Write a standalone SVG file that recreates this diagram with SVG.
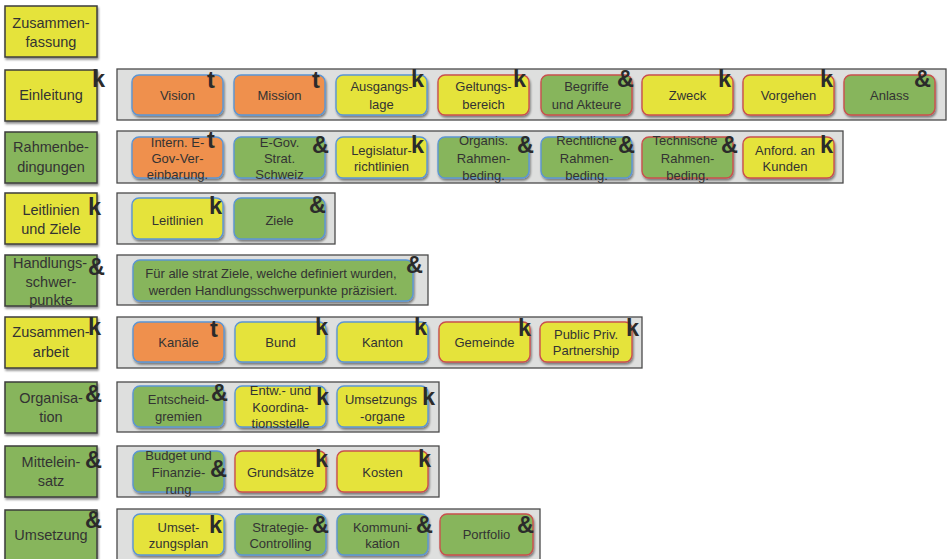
<svg xmlns="http://www.w3.org/2000/svg" width="951" height="559" viewBox="0 0 951 559">
<defs>
<filter id="sh" x="-10%" y="-10%" width="130%" height="140%"><feDropShadow dx="1" dy="2" stdDeviation="1.2" flood-color="#000" flood-opacity="0.45"/></filter>
<style>
.side{stroke:#3c3c3c;stroke-width:1.5;filter:url(#sh)}
.cont{fill:#dedfde;stroke:#4a4a4a;stroke-width:1.3}
.b{stroke-width:1.4;filter:url(#sh)}
.o{fill:#ef904d}.y{fill:#e5e33b}.g{fill:#87b55b}
.sb{stroke:#5b95d3}.sr{stroke:#c9504d}
text{font-family:"Liberation Sans",Arial,sans-serif;fill:#333;text-anchor:middle}
.l{font-size:14.5px}
.i{font-size:13px}
.m{font-size:23.5px;font-weight:bold;text-anchor:start;fill:#2b2b2b}
</style>
</defs>

<!-- Left labels -->
<g id="zusammenfassung"><rect class="side y" x="5" y="6" width="92" height="51"/><text class="l" x="51" y="28">Zusammen-</text><text class="l" x="51" y="47">fassung</text></g>
<g id="einleitung"><rect class="side y" x="5" y="70" width="92" height="51"/><text class="l" x="51" y="100">Einleitung</text><text class="m" x="92" y="87">k</text></g>
<g id="rahmenbedingungen"><rect class="side g" x="5" y="132" width="92" height="51"/><text class="l" x="51" y="152">Rahmenbe-</text><text class="l" x="51" y="172">dingungen</text></g>
<g id="leitlinien-ziele"><rect class="side y" x="5" y="193" width="92" height="51"/><text class="l" x="51" y="215">Leitlinien</text><text class="l" x="51" y="233.5">und Ziele</text><text class="m" x="88" y="215">k</text></g>
<g id="handlungsschwerpunkte"><rect class="side g" x="5" y="255" width="92" height="51"/><text class="l" x="50" y="268">Handlungs-</text><text class="l" x="51" y="286.5">schwer-</text><text class="l" x="51" y="305">punkte</text><text class="m" x="88" y="275">&amp;</text></g>
<g id="zusammenarbeit"><rect class="side y" x="5" y="317" width="92" height="51"/><text class="l" x="51" y="337">Zusammen-</text><text class="l" x="51" y="357">arbeit</text><text class="m" x="88" y="335">k</text></g>
<g id="organisation"><rect class="side g" x="5" y="382" width="92" height="51"/><text class="l" x="51" y="403">Organisa-</text><text class="l" x="51" y="422">tion</text><text class="m" x="85" y="402">&amp;</text></g>
<g id="mitteleinsatz"><rect class="side g" x="5" y="446" width="92" height="51"/><text class="l" x="51" y="467">Mittelein-</text><text class="l" x="51" y="486">satz</text><text class="m" x="85" y="468">&amp;</text></g>
<g id="umsetzung"><rect class="side g" x="5" y="510" width="92" height="51"/><text class="l" x="51" y="540">Umsetzung</text><text class="m" x="85" y="528">&amp;</text></g>

<!-- Containers -->
<g id="containers">
<rect class="cont" x="117" y="69" width="829" height="51"/>
<rect class="cont" x="117" y="131" width="726" height="52"/>
<rect class="cont" x="117" y="193" width="218" height="51"/>
<rect class="cont" x="117" y="255" width="311" height="50"/>
<rect class="cont" x="117" y="317" width="525" height="51"/>
<rect class="cont" x="117" y="382" width="322" height="50"/>
<rect class="cont" x="117" y="446" width="322" height="51"/>
<rect class="cont" x="117" y="509" width="423" height="60"/>
</g>

<!-- Einleitung row -->
<g id="vision"><rect class="b o sb" x="132" y="75" width="91" height="40" rx="7"/><text class="i" x="177.5" y="99.5">Vision</text><text class="m" x="207" y="88">t</text></g>
<g id="mission"><rect class="b o sb" x="234" y="75" width="91" height="40" rx="7"/><text class="i" x="279.5" y="99.5">Mission</text><text class="m" x="312" y="88">t</text></g>
<g id="ausgangslage"><rect class="b y sb" x="336" y="75" width="91" height="40" rx="7"/><text class="i" x="381.5" y="91">Ausgangs-</text><text class="i" x="381.5" y="109">lage</text><text class="m" x="411" y="87">k</text></g>
<g id="geltungsbereich"><rect class="b y sr" x="438" y="75" width="91" height="40" rx="7"/><text class="i" x="483.5" y="91">Geltungs-</text><text class="i" x="483.5" y="109">bereich</text><text class="m" x="513" y="87">k</text></g>
<g id="begriffe"><rect class="b g sr" x="541" y="75" width="91" height="40" rx="7"/><text class="i" x="586.5" y="91">Begriffe</text><text class="i" x="586.5" y="109">und Akteure</text><text class="m" x="617" y="87">&amp;</text></g>
<g id="zweck"><rect class="b y sr" x="642" y="75" width="91" height="40" rx="7"/><text class="i" x="687.5" y="99.5">Zweck</text><text class="m" x="718" y="87">k</text></g>
<g id="vorgehen"><rect class="b y sr" x="743" y="75" width="91" height="40" rx="7"/><text class="i" x="788.5" y="99.5">Vorgehen</text><text class="m" x="820" y="87">k</text></g>
<g id="anlass"><rect class="b g sr" x="844" y="75" width="91" height="40" rx="7"/><text class="i" x="889.5" y="99.5">Anlass</text><text class="m" x="914" y="87">&amp;</text></g>

<!-- Rahmenbedingungen row -->
<g id="intern-egov"><rect class="b o sb" x="132" y="137" width="91" height="41" rx="7"/><text class="i" x="177.5" y="146.5">Intern. E-</text><text class="i" x="177.5" y="162.5">Gov-Ver-</text><text class="i" x="177.5" y="178.5">einbarung.</text><text class="m" x="207" y="148">t</text></g>
<g id="egov-strat"><rect class="b g sb" x="234" y="137" width="91" height="41" rx="7"/><text class="i" x="279.5" y="146.5">E-Gov.</text><text class="i" x="279.5" y="162.5">Strat.</text><text class="i" x="279.5" y="178.5">Schweiz</text><text class="m" x="312" y="153">&amp;</text></g>
<g id="legislatur"><rect class="b y sb" x="336" y="137" width="91" height="41" rx="7"/><text class="i" x="381.5" y="154.5">Legislatur-</text><text class="i" x="381.5" y="171">richtlinien</text><text class="m" x="411" y="153">k</text></g>
<g id="organis-rahmen"><rect class="b g sb" x="438" y="137" width="91" height="41" rx="7"/><text class="i" x="483.5" y="144.5">Organis.</text><text class="i" x="483.5" y="162.5">Rahmen-</text><text class="i" x="483.5" y="179.5">beding.</text><text class="m" x="517" y="153">&amp;</text></g>
<g id="rechtliche-rahmen"><rect class="b g sb" x="541" y="137" width="91" height="41" rx="7"/><text class="i" x="586.5" y="144.5">Rechtliche</text><text class="i" x="586.5" y="162.5">Rahmen-</text><text class="i" x="586.5" y="179.5">beding.</text><text class="m" x="618" y="153">&amp;</text></g>
<g id="technische-rahmen"><rect class="b g sr" x="642" y="137" width="91" height="41" rx="7"/><text class="i" x="685" y="144.5">Technische</text><text class="i" x="687.5" y="162.5">Rahmen-</text><text class="i" x="687.5" y="179.5">beding.</text><text class="m" x="721" y="153">&amp;</text></g>
<g id="anford-kunden"><rect class="b y sr" x="743" y="137" width="91" height="41" rx="7"/><text class="i" x="785" y="154.5">Anford. an</text><text class="i" x="785" y="171">Kunden</text><text class="m" x="820" y="153">k</text></g>

<!-- Leitlinien row -->
<g id="leitlinien"><rect class="b y sb" x="132" y="198" width="91" height="41" rx="7"/><text class="i" x="177.5" y="224.5">Leitlinien</text><text class="m" x="209" y="214">k</text></g>
<g id="ziele"><rect class="b g sb" x="234" y="198" width="91" height="41" rx="7"/><text class="i" x="279.5" y="224.5">Ziele</text><text class="m" x="309" y="213">&amp;</text></g>

<!-- Handlungsschwerpunkte row -->
<g id="handlungs-text"><rect class="b g sb" x="133" y="260" width="280" height="41" rx="7"/><text class="i" x="271" y="277.5">Für alle strat  Ziele, welche definiert wurden,</text><text class="i" x="273" y="294.5">werden Handlungsschwerpunkte präzisiert.</text><text class="m" x="406" y="273">&amp;</text></g>

<!-- Zusammenarbeit row -->
<g id="kanaele"><rect class="b o sb" x="133" y="322" width="91" height="40" rx="7"/><text class="i" x="178.5" y="346.5">Kanäle</text><text class="m" x="210" y="337">t</text></g>
<g id="bund"><rect class="b y sb" x="235" y="322" width="91" height="40" rx="7"/><text class="i" x="280.5" y="346.5">Bund</text><text class="m" x="315" y="335">k</text></g>
<g id="kanton"><rect class="b y sb" x="337" y="322" width="91" height="40" rx="7"/><text class="i" x="382.5" y="346.5">Kanton</text><text class="m" x="414" y="335">k</text></g>
<g id="gemeinde"><rect class="b y sr" x="439" y="322" width="91" height="40" rx="7"/><text class="i" x="484.5" y="346.5">Gemeinde</text><text class="m" x="518" y="336">k</text></g>
<g id="ppp"><rect class="b y sr" x="540" y="322" width="92" height="40" rx="7"/><text class="i" x="586" y="338.5">Public Priv.</text><text class="i" x="586" y="355">Partnership</text><text class="m" x="626" y="336">k</text></g>

<!-- Organisation row -->
<g id="entscheidgremien"><rect class="b g sb" x="133" y="386" width="91" height="41" rx="7"/><text class="i" x="178.5" y="403.5">Entscheid-</text><text class="i" x="178.5" y="420.5">gremien</text><text class="m" x="211" y="401">&amp;</text></g>
<g id="koordinationsstelle"><rect class="b y sb" x="235" y="386" width="91" height="41" rx="7"/><text class="i" x="280.5" y="395">Entw.- und</text><text class="i" x="280.5" y="412">Koordina-</text><text class="i" x="280.5" y="428">tionsstelle</text><text class="m" x="316" y="405">k</text></g>
<g id="umsetzungsorgane"><rect class="b y sb" x="337" y="386" width="91" height="41" rx="7"/><text class="i" x="381" y="403.5">Umsetzungs</text><text class="i" x="382.5" y="420.5">-organe</text><text class="m" x="422" y="405">k</text></g>

<!-- Mitteleinsatz row -->
<g id="budget"><rect class="b g sb" x="133" y="451" width="91" height="41" rx="7"/><text class="i" x="178.5" y="459.5">Budget und</text><text class="i" x="178.5" y="476.5">Finanzie-</text><text class="i" x="178.5" y="493.5">rung</text><text class="m" x="210" y="477">&amp;</text></g>
<g id="grundsaetze"><rect class="b y sr" x="235" y="451" width="91" height="41" rx="7"/><text class="i" x="280.5" y="476.5">Grundsätze</text><text class="m" x="315" y="467">k</text></g>
<g id="kosten"><rect class="b y sr" x="337" y="451" width="91" height="41" rx="7"/><text class="i" x="382.5" y="476.5">Kosten</text><text class="m" x="418" y="467">k</text></g>

<!-- Umsetzung row -->
<g id="umsetzungsplan"><rect class="b y sb" x="133" y="514" width="91" height="41" rx="7"/><text class="i" x="178.5" y="531.5">Umset-</text><text class="i" x="178.5" y="548">zungsplan</text><text class="m" x="209" y="533">k</text></g>
<g id="strategie-controlling"><rect class="b g sb" x="235" y="514" width="91" height="41" rx="7"/><text class="i" x="280.5" y="531.5">Strategie-</text><text class="i" x="280.5" y="548">Controlling</text><text class="m" x="312" y="533">&amp;</text></g>
<g id="kommunikation"><rect class="b g sb" x="337" y="514" width="91" height="41" rx="7"/><text class="i" x="382.5" y="531.5">Kommuni-</text><text class="i" x="382.5" y="548">kation</text><text class="m" x="416" y="533">&amp;</text></g>
<g id="portfolio"><rect class="b g sr" x="440" y="514" width="93" height="41" rx="7"/><text class="i" x="486.5" y="539">Portfolio</text><text class="m" x="517" y="533">&amp;</text></g>
</svg>
